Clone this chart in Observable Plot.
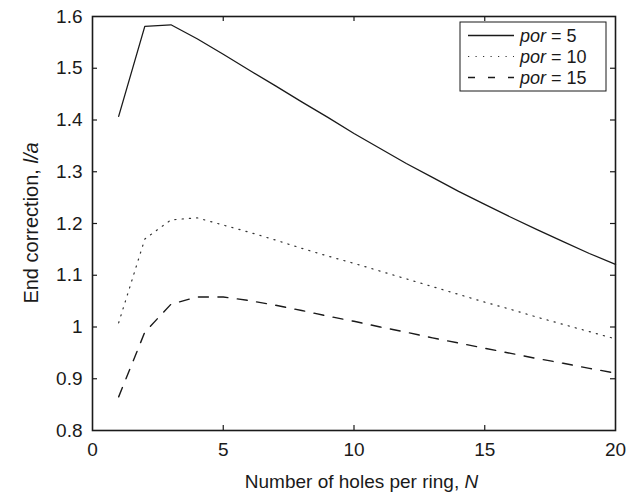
<!DOCTYPE html>
<html><head><meta charset="utf-8">
<script src="https://cdn.jsdelivr.net/npm/d3@7"></script>
<script src="https://cdn.jsdelivr.net/npm/@observablehq/plot@0.6"></script>
<style>
body{margin:0;background:#fff;}
#wrap{position:relative;width:627px;height:496px;}
</style></head><body><div id="wrap"></div>
<script>
// ---- data ----
const holes = [1,2,3,4,5,6,7,8,9,10,11,12,13,14,15,16,17,18,19,20];
const por5  = [1.407,1.581,1.584,1.557,1.527,1.496,1.466,1.435,1.405,1.374,1.345,1.316,1.289,1.262,1.237,1.212,1.188,1.165,1.142,1.121];
const por10 = [1.008,1.170,1.207,1.211,1.197,1.183,1.168,1.152,1.137,1.123,1.108,1.093,1.078,1.063,1.048,1.034,1.019,1.005,0.991,0.977];
const por15 = [0.865,0.990,1.044,1.058,1.058,1.051,1.042,1.032,1.021,1.011,1.000,0.990,0.979,0.969,0.959,0.949,0.939,0.930,0.920,0.911];
const seriesPor = [5, 10, 15];
const xTicks = [0,5,10,15,20];
const yTicks = [0.8,0.9,1.0,1.1,1.2,1.3,1.4,1.5,1.6];
const yTickLabels = ["0.8","0.9","1","1.1","1.2","1.3","1.4","1.5","1.6"];
const xTitle = "Number of holes per ring, ";
const xTitleItalic = "N";
const yTitle = "End correction, ";
const yTitleItalic = "l/a";

// ---- layout ----
const W = 627, H = 496;
const mL = 92, mR = 12, mT = 16, mB = 66;
const pw = W - mL - mR, ph = H - mT - mB;
const ink = "#1a1a1a";
const FONT = "'Liberation Sans', Arial, Helvetica, sans-serif";
const FS = 19;
const styles = [
  {dash: null, width: 1.3, color: ink, legendDash: null},
  {dash: "1.2,6.1", width: 1.2, color: "#333", legendDash: "1.2,6.3"},
  {dash: "10,9.5", width: 1.4, color: ink, legendDash: "7,13"}
];
const seriesVals = [por5, por10, por15];
const rows = seriesVals.map(vals => holes.map((n, i) => ({N: n, v: vals[i]})));

const inner = (a) => a.slice(1, -1);
const chart = Plot.plot({
  width: W, height: H,
  marginLeft: mL, marginRight: mR, marginTop: mT, marginBottom: mB,
  style: {fontFamily: FONT, fontSize: FS + "px", color: ink, background: "#fff"},
  x: {domain: [0, 20]},
  y: {domain: [0.8, 1.6]},
  marks: [
    ...rows.map((r, k) => Plot.line(r, {x: "N", y: "v", stroke: styles[k].color, strokeWidth: styles[k].width, strokeDasharray: styles[k].dash})),
    Plot.ruleY(inner(yTicks), {y: d => d, insetRight: pw - 5, stroke: ink, strokeWidth: 1.2}),
    Plot.ruleY(inner(yTicks), {y: d => d, insetLeft: pw - 5, stroke: ink, strokeWidth: 1.2}),
    Plot.ruleX(inner(xTicks), {x: d => d, insetTop: ph - 5, stroke: ink, strokeWidth: 1.2}),
    Plot.ruleX(inner(xTicks), {x: d => d, insetBottom: ph - 5, stroke: ink, strokeWidth: 1.2}),
    Plot.frame({stroke: ink, strokeWidth: 1.6}),
    Plot.axisX({ticks: xTicks, tickSize: 0, tickPadding: 12, label: null, fontSize: FS}),
    Plot.axisY({ticks: yTicks, tickSize: 0, tickPadding: 10, label: null, fontSize: FS,
      tickFormat: d => yTickLabels[yTicks.findIndex(t => Math.abs(t - d) < 1e-9)]})
  ]
});
document.getElementById("wrap").appendChild(chart);

const svg = d3.select(chart);
// axis titles
const xt = svg.append("text").attr("x", mL + pw / 2 + 8).attr("y", H - 8)
  .attr("text-anchor", "middle").attr("font-family", FONT).attr("font-size", FS).attr("fill", ink);
xt.append("tspan").text(xTitle);
xt.append("tspan").attr("font-style", "italic").text(xTitleItalic);
const yt = svg.append("text").attr("transform", `translate(38,${mT + ph / 2}) rotate(-90)`)
  .attr("text-anchor", "middle").attr("font-family", FONT).attr("font-size", 20).attr("fill", ink);
yt.append("tspan").text(yTitle);
yt.append("tspan").attr("font-style", "italic").text(yTitleItalic);

// legend
const lg = svg.append("g").attr("text-anchor", "start");
const bx = 460, by = 22, bw = 146, bh = 69;
const rowGap = 21;
lg.append("rect").attr("x", bx).attr("y", by).attr("width", bw).attr("height", bh)
  .attr("fill", "#fff").attr("stroke", ink).attr("stroke-width", 1);
seriesPor.forEach((p, k) => {
  const cy = by + 13.5 + k * rowGap;
  lg.append("line").attr("x1", bx + 8).attr("x2", bx + 54).attr("y1", cy).attr("y2", cy)
    .attr("stroke", styles[k].color).attr("stroke-width", styles[k].width)
    .attr("stroke-dasharray", styles[k].legendDash);
  const t = lg.append("text").attr("x", bx + 60).attr("y", cy).attr("dy", "0.36em")
    .attr("text-anchor", "start")
    .attr("font-family", FONT).attr("font-size", 18).attr("fill", ink);
  t.append("tspan").attr("font-style", "italic").text("por");
  t.append("tspan").text(" = " + p);
});
</script></body></html>
